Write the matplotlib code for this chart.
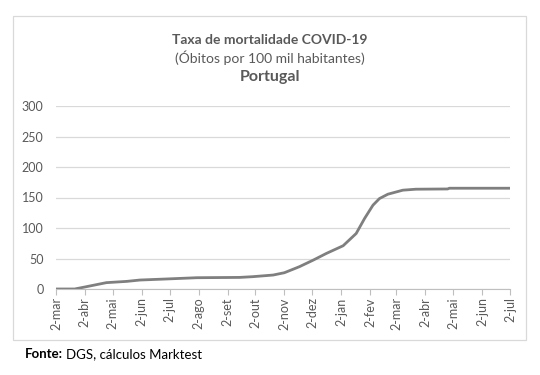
import datetime as dt
import matplotlib
matplotlib.use('Agg')
import matplotlib.pyplot as plt
from matplotlib.patches import Rectangle

# Taxa de mortalidade (obitos por 100 mil habitantes)
dates = ['2020-03-02', '2020-03-22', '2020-04-02', '2020-04-25', '2020-05-17', '2020-05-31',
         '2020-06-28', '2020-07-31', '2020-09-15', '2020-09-29', '2020-10-21', '2020-11-02',
         '2020-11-18', '2020-12-03', '2020-12-17', '2021-01-04', '2021-01-18', '2021-01-27',
         '2021-02-05', '2021-02-12', '2021-02-21', '2021-03-09', '2021-03-23', '2021-04-26',
         '2021-04-28', '2021-07-02']
values = [0, 0, 3.3, 10.4, 12.5, 14.7,
          16.4, 18.5, 19.0, 20.2, 22.9, 26.7,
          36.5, 47.4, 58.3, 70.9, 91.0, 115.6,
          137.4, 148.3, 155.4, 162.0, 163.6, 164.0,
          165.2, 165.2]
tickDates = ['2020-03-02', '2020-04-02', '2020-05-02', '2020-06-02', '2020-07-02', '2020-08-02',
             '2020-09-02', '2020-10-02', '2020-11-02', '2020-12-02', '2021-01-02', '2021-02-02',
             '2021-03-02', '2021-04-02', '2021-05-02', '2021-06-02', '2021-07-02']
tickLabels = ['2-mar', '2-abr', '2-mai', '2-jun', '2-jul', '2-ago', '2-set', '2-out', '2-nov',
              '2-dez', '2-jan', '2-fev', '2-mar', '2-abr', '2-mai', '2-jun', '2-jul']
yTicks = [0, 50, 100, 150, 200, 250, 300]

plt.rcParams['font.family'] = ['Lato', 'DejaVu Sans']

x = [dt.datetime.strptime(d, '%Y-%m-%d') for d in dates]
xt = [dt.datetime.strptime(d, '%Y-%m-%d') for d in tickDates]

fig = plt.figure(figsize=(5.4, 3.75), dpi=100)
ax = fig.add_axes([56/540, 1-289/375, (510-56)/540, (289-106)/375])

txtColor = '#595959'
ax.plot(x, values, color='#7f7f7f', linewidth=2)
ax.set_xlim(xt[0], xt[-1])
ax.set_ylim(0, 300)
ax.set_yticks(yTicks)
ax.set_xticks(xt)
ax.set_xticklabels(tickLabels, rotation=90)
ax.yaxis.grid(True, color='#d9d9d9', linewidth=0.9)
ax.set_axisbelow(True)
for s in ['top', 'right', 'left']:
    ax.spines[s].set_visible(False)
ax.spines['bottom'].set_color('#bfbfbf')
ax.tick_params(axis='y', length=0, labelsize=9, labelcolor=txtColor, pad=9)
ax.tick_params(axis='x', length=4, color='#bfbfbf', labelsize=9, labelcolor=txtColor, pad=2)

# moldura do grafico
fig.patches.append(Rectangle((13/540, 1-340/375), (526-13)/540, (340-16)/375,
                             transform=fig.transFigure, fill=False, edgecolor='#d9d9d9', linewidth=0.9))

fig.text(0.5, 1-40/375, 'Taxa de mortalidade COVID-19', ha='center', va='center',
         fontsize=10, fontweight='bold', color=txtColor)
fig.text(0.5, 1-58/375, '(Óbitos por 100 mil habitantes)', ha='center', va='center',
         fontsize=10, color=txtColor)
fig.text(0.5, 1-77/375, 'Portugal', ha='center', va='center',
         fontsize=11.5, fontweight='bold', color=txtColor)

fonte = fig.text(25/540, 1-354/375, 'Fonte:', ha='left', va='center',
                 fontsize=9.5, fontweight='bold', color='black')
fig.canvas.draw()
bb = fonte.get_window_extent().transformed(fig.transFigure.inverted())
fig.text(bb.x1 + 3/540, 1-354/375, 'DGS, cálculos Marktest', ha='left', va='center',
         fontsize=9.5, color='black')

fig.savefig('out.png', dpi=100)
